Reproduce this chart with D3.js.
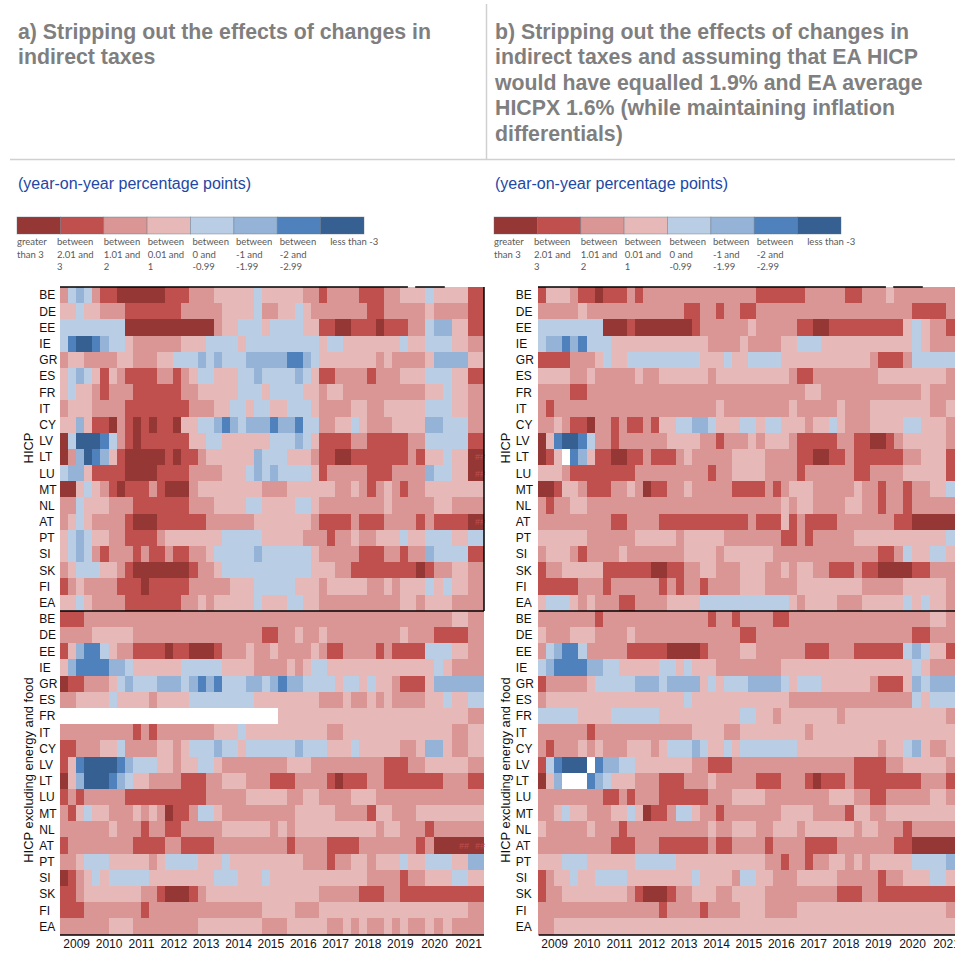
<!DOCTYPE html>
<html><head><meta charset="utf-8">
<style>html,body{margin:0;padding:0;background:#fff;overflow:hidden}svg{display:block}text{font-family:"Liberation Sans",Arial,sans-serif}</style>
<script src="https://cdnjs.cloudflare.com/ajax/libs/d3/7.8.5/d3.min.js"></script>
</head><body><div id="c"></div>
<script>
const countries=["BE","DE","EE","IE","GR","ES","FR","IT","CY","LV","LT","LU","MT","NL","AT","PT","SI","SK","FI","EA"];
const years=[2009,2010,2011,2012,2013,2014,2015,2016,2017,2018,2019,2020,2021];
const bandCodes=["a","b","c","d","e","f","g","h"];
const bandColors=["#953735","#C0504D","#D99694","#E6B9B8","#B9CDE5","#95B3D7","#4F81BD","#366092"];
const bandLabels=[["greater","than 3"],["between","2.01 and","3"],["between","1.01 and","2"],["between","0.01 and","1"],["between","0 and","-0.99"],["between","-1 and","-1.99"],["between","-2 and","-2.99"],["less than -3"]];
// band code + run length over 52 periods, 2009-2021; "_" = no data
const a_hicp=[
"c e f e c b2 a6 b3 c3 d5 e d5 c2 b c4 b3 c2 d3 e d4 b2",
"d2 e d2 c3 b7 c5 d4 e c2 d2 e d c7 b2 c5 d c4 b2",
"e8 a11 c d2 e3 d e4 d2 b2 a2 b3 a b3 c2 e f2 d2 b2",
"e g h2 g f e2 d c6 d3 e4 d e9 d e2 d7 e d2 e3 d2 c2",
"c d2 c4 d2 c3 d2 e3 f e f e3 f5 g2 f e d7 c d c4 d f4 d2",
"d e f e d b d c b4 c2 b c d e2 d3 e2 f e4 f e d b2 c4 b c3 d3 e3 d2 b2",
"d e d2 c b c3 b6 c2 d5 e3 d e4 d2 c d2 c10 d2 e d2 c2",
"c d3 c4 b8 c3 d2 e2 d e2 d2 e3 d c4 d2 c2 d5 e3 d2 c2",
"d2 f d b2 a c b a b a b2 a d2 e2 f g f e f3 g f2 g e2 c2 d2 e d c3 d4 f2 e3 c2",
"a e h3 g e c b a b6 d2 e2 d6 e3 f e d b4 c2 b5 c2 e5 b2",
"a c f h g f d b a5 b a b2 c d6 f e3 d3 c b2 a2 b7 c b d2 e d2 a2",
"e f2 d b4 a4 b4 c4 d3 e f e f e4 d b c5 b3 c4 f e2 d2 a2",
"a2 d e d c b a b3 c b a3 c d8 c3 d6 c2 d c b c d c b c2 d7",
"c2 e d3 c3 b7 c3 d4 e2 d4 e2 d c8 d c5 d2 c4",
"c d e d c4 b a3 b6 c6 d7 c b4 c b3 c4 b c b4 a2",
"d e f e d2 c2 b4 c d7 e5 d5 c3 b c2 d c2 d3 e d2 e3 d2 e2",
"d e f e c b c3 b c b2 c b2 c2 d e5 f e6 d c5 b3 c2 b c2 f e4 b2",
"c d e3 d2 c b a7 b c2 d e11 d3 c2 b8 a b c2 d2 c2",
"b c d c4 b3 a b5 c5 d3 e5 d3 c d5 c2 d c d3 e d e d2 c2",
"d2 e d c4 b7 c2 d c d5 e d3 e2 d2 c10 d2 c d3 c4"];
const a_hicpx=[
"b3 c45 d2 c2",
"c4 d5 c16 b2 c2 d c2 d c9 d c3 b4 c2",
"b d f g2 e d c2 b4 a b2 a3 b c3 d c2 d c4 d c b2 c4 b c b4 e3 d2 c2",
"d f g4 f2 e d6 e5 d4 c4 d c d e2 d13 e d c4",
"a b2 c3 d e f e3 f3 e f g f g e3 f2 e f g f2 e4 d e2 d e d2 c b3 d f6",
"c2 d4 e d4 c d4 e8 d8 c3 d c2 d c d c4 d2 e d2 e2",
"_27 d23 c2",
"c9 b c b c7 d3 e d10 c2 d13 c2 d2",
"b2 c3 d2 e c4 d2 c d e3 f e2 d e6 f e3 d3 e d5 c2 d f2 d c2 d2",
"b d g h4 g f e3 d2 c d2 e2 d c8 d3 c9 b3 c2 d5 c2",
"a d f h3 g f e d2 c4 b3 c2 d3 c3 b3 c4 b a b3 c2 b7 c3 b2",
"b c b c5 b10 c5 d5 c2 d2 c4 d3 c13",
"c b d e d2 c3 d c d c a b2 c e2 d c9 d5 c4 b d2 c3 d8",
"c6 d c3 b c2 b2 c5 d6 c d c d10 c d2 c3 b c6",
"b c8 b4 c2 b4 c9 b c4 b4 c7 b c a6",
"c2 d e3 d5 c d e4 d3 e d9 c3 b c2 d2 c d3 e d2 e3 d2 f2",
"a b c d e d e5 d8 e3 d3 e d12 c4 b c2 d3 e2 d2",
"b2 c d7 c2 b a3 b c d14 c5 b3 c2 b10",
"b3 c7 b c14 d4 c3 d18 c2",
"c6 d3 c8 d8 c3 d5 c2 d c d c2 d c d c2 d c d c4"];
const b_hicp=[
"b d3 c b2 a b3 c b c14 b6 c5 b2 c3 d c8",
"c5 d c12 b2 c2 b c2 b2 c19 b4 c2",
"e8 a3 b a7 b c6 d c5 b2 a2 b9 d e d c2 b2",
"e f2 g f g e3 d12 c4 d c4 d2 e3 d11 e d c4",
"b4 c3 d e d2 e9 d3 e d2 e4 d11 c b3 c e6",
"d4 c2 d c5 d c2 d6 c d9 c b2 c8 d8 c2",
"c4 b2 c27 d2 c12 d c4",
"c b c20 d c8 d c5 d c3 d7 c2 d2",
"c2 d c b2 a c2 b c b2 c b d2 e2 f2 e d3 e2 d e2 d3 c d2 e d c3 d4 e2 d3 c2",
"a d g h2 g e c2 b c6 d4 c2 b c3 d c d3 c b5 c2 b2 a2 b c d5 c2",
"a b d _ g f d b2 a2 b2 c b3 c d c5 d4 c4 b2 a2 b2 c b6 c2 d3 b2",
"d3 c b8 c9 b c2 d4 c4 b c6 b2 c4 d5 b2",
"a2 b d2 c b3 c2 d c a b2 c2 d c5 b4 c b c d3 c5 d c2 b c2 b c2 d2 e2",
"c b c2 d2 c24 d c d2 c4 d2 c2 b c2 b c6",
"c9 b2 c4 b11 c b3 d b c b4 c7 b2 a6",
"d6 c6 d5 c d5 c7 b2 c b c5 d11 e2",
"c d3 c b c4 d c7 d4 c d6 c13 b2 c e d2 e2 d2",
"b c2 d5 b6 a2 b2 c2 d2 c3 d3 c2 d c d2 c2 b3 c b2 a4 b2 c4",
"b5 c3 b c6 b c b c2 b c4 d3 c4 d8 c5 d5 c2",
"d e3 d c d c3 b2 c4 d4 e11 d c d4 c3 d5 e d e d2 c2"];
const b_hicpx=[
"c7 b c13 b c2 b c4 b2 c17 d2 c2",
"d c3 d3 c4 d c13 b2 c19 b2 c4",
"c e f g2 e c5 b5 a4 b c4 d2 c6 b3 c3 b6 e f e d2 b2",
"e f g4 f2 e2 d5 e2 d e d3 c8 d16 e d c4",
"b c5 d e5 f3 e f4 d e d e3 f4 e d e3 d6 c b3 d f e f4",
"c d17 e d12 c15 e d e4",
"e5 d4 e6 d10 e2 d2 c d7 c d12 c2",
"c6 b c12 d4 c2 d8 c d18",
"c b c3 d c d c3 d3 c d e3 f e d2 e d e7 d10 c d2 e f d c2 d2",
"b e g h3 _ g f2 e2 d7 c2 b3 c15 b4 c2 d5 c2",
"a d f _3 g f e d3 c3 b3 c3 d c5 b3 c3 b a b3 c b8 c3 b2",
"c8 b2 c b c3 b6 c3 d4 c8 d3 c2 b2 c5 d2 c2",
"c2 d e d2 c3 d2 e d a b2 c e2 d c2 b c7 d4 c4 b d2 c2 d9",
"d c5 d c3 b c10 d c2 d3 c2 d3 c d6 c d2 c3 b c6",
"c9 b3 c3 b6 c b2 c4 b c4 b4 c7 b2 a6",
"d3 e3 d6 e5 d11 c2 b c2 b c2 d2 c d c d5 e4 f2",
"b c d2 e d2 e4 d8 e d4 c e2 d2 c3 d5 c5 b c2 d3 e2 d2",
"b c2 d8 c b a3 b c2 d3 c2 d4 c9 b3 c2 b10",
"c15 b c4 b c4 d3 c4 d18 c2",
"c2 d50"];

const decode=s=>s.split(" ").flatMap(t=>d3.range(+(t.slice(1)||1)).map(()=>t[0]));

const W=955,H=964;
const svg=d3.select("#c").append("svg").attr("width",W).attr("height",H);
const color=d3.scaleOrdinal(bandCodes,bandColors);
// the last two years are drawn a little wider in the source
const xBase=d3.scaleLinear().domain([0,44,48,52]).range([60,416,452,484]);
const y=d3.scaleBand().domain(d3.range(40)).range([287,934.6]);

const titleA=["a) Stripping out the effects of changes in","indirect taxes"];
const titleB=["b) Stripping out the effects of changes in","indirect taxes and assuming that EA HICP","would have equalled 1.9% and EA average","HICPX 1.6% (while maintaining inflation","differentials)"];
const unit="(year-on-year percentage points)";
// hash marks visible in the source: [block, row, col]
const hashA=[[0,10,51],[0,11,51],[0,14,51],[1,14,49],[1,14,51]];

svg.append("line").attr("x1",486.5).attr("x2",486.5).attr("y1",4).attr("y2",159).attr("stroke","#d0d0d0").attr("stroke-width",1.5);
svg.append("line").attr("x1",10).attr("x2",955).attr("y1",159.5).attr("y2",159.5).attr("stroke","#d0d0d0").attr("stroke-width",1.5);

function panel(dx,titleLines,titleX,legendX,labelX,groupX,hicp,hicpx,topSegs,rightLine,hashes){
  const g=svg.append("g");
  g.selectAll("text.t").data(titleLines).join("text").attr("class","t")
    .attr("x",titleX).attr("y",(d,i)=>39+i*25.4)
    .attr("font-size",21.3).attr("font-weight","bold").attr("fill","#7f7f7f").text(d=>d);
  g.append("text").attr("x",titleX).attr("y",189).attr("font-size",16).attr("fill","#2148a5").text(unit);
  // legend
  const lx=d3.scaleBand().domain(bandCodes).range([legendX,legendX+347]);
  g.selectAll("rect.l").data(bandCodes).join("rect").attr("class","l")
    .attr("x",d=>lx(d)).attr("y",217).attr("width",lx.bandwidth()).attr("height",17)
    .attr("fill",d=>color(d)).attr("stroke","#5f6f7f").attr("stroke-opacity",.55).attr("stroke-width",.7);
  const labelOffs=[0,-3.4,0,0.5,2,2,2.5,9.5];
  bandLabels.forEach((lines,i)=>{
    g.selectAll(null).data(lines).join("text")
      .attr("x",legendX+i*lx.step()+labelOffs[i]).attr("y",(d,k)=>245+k*12.7)
      .style("font-family","Lato,sans-serif").attr("font-size",9.5).attr("fill","#595959").text(d=>d);
  });
  // cells
  const x=xBase.copy().range(xBase.range().map(v=>v+dx));
  const cells=[...hicp,...hicpx].flatMap((r,i)=>decode(r).map((c,j)=>({row:i,col:j,c}))).filter(d=>d.c!=="_");
  g.append("g").attr("shape-rendering","crispEdges").selectAll("rect").data(cells).join("rect")
    .attr("x",d=>x(d.col)).attr("y",d=>y(d.row))
    .attr("width",d=>x(d.col+1)-x(d.col)).attr("height",y.bandwidth()+.5)
    .attr("fill",d=>color(d.c));
  g.selectAll("text.h").data(hashes).join("text").attr("class","h")
    .attr("x",d=>(x(d[2])+x(d[2]+1))/2).attr("y",d=>y(d[0]*20+d[1])+y.bandwidth()/2+3.5)
    .attr("text-anchor","middle").attr("font-size",9).attr("fill","#C0504D").text("##");
  // row labels
  const yAxis=d3.axisLeft(y).tickSize(0).tickPadding(0).tickFormat(i=>countries[i%20]);
  const ya=g.append("g").attr("transform",`translate(${labelX-0.7},0)`).call(yAxis);
  ya.select(".domain").remove();
  ya.selectAll("text").attr("text-anchor","start").attr("x",0).attr("dy","0.36em")
    .attr("font-size",12).attr("font-family",null).attr("fill","#111");
  // year labels
  const xAxis=d3.axisBottom(x).tickSize(0).tickPadding(0)
    .tickValues(years.map((v,i)=>2+i*4)).tickFormat((v,i)=>years[i]);
  const xa=g.append("g").attr("transform","translate(0,939.5)").call(xAxis);
  xa.select(".domain").remove();
  xa.selectAll("text").attr("font-size",12).attr("font-family",null).attr("fill","#111");
  // group labels
  [["HICP",448],["HICP excluding energy and food",770]].forEach(([t,cy])=>{
    g.append("text").attr("transform",`translate(${groupX},${cy}) rotate(-90)`)
      .attr("text-anchor","middle").attr("font-size",12.9).attr("fill","#111").text(t);
  });
  // frame lines
  const frame=topSegs.map(s=>[x(s[0]),y(0),x(s[1]),y(0)]);
  const left=x(0)+(dx?.7:0);
  frame.push([left,611,Math.min(x(52),W),611],[left,935,Math.min(x(52),W),935]);
  if(rightLine)frame.push([x(52),287,x(52),611]);
  g.selectAll("line.f").data(frame).join("line").attr("class","f")
    .attr("x1",d=>d[0]).attr("y1",d=>d[1]).attr("x2",d=>d[2]).attr("y2",d=>d[3])
    .attr("stroke","#000").attr("stroke-width",1.5);
}
panel(0,titleA,18,17,40,28+4.5,a_hicp,a_hicpx,[[0,43],[43.9,47.2]],true,hashA);
panel(478,titleB,495,494,516.5,505+4.5,b_hicp,b_hicpx,[[0,43],[43.9,47.2]],false,[]);
</script></body></html>
